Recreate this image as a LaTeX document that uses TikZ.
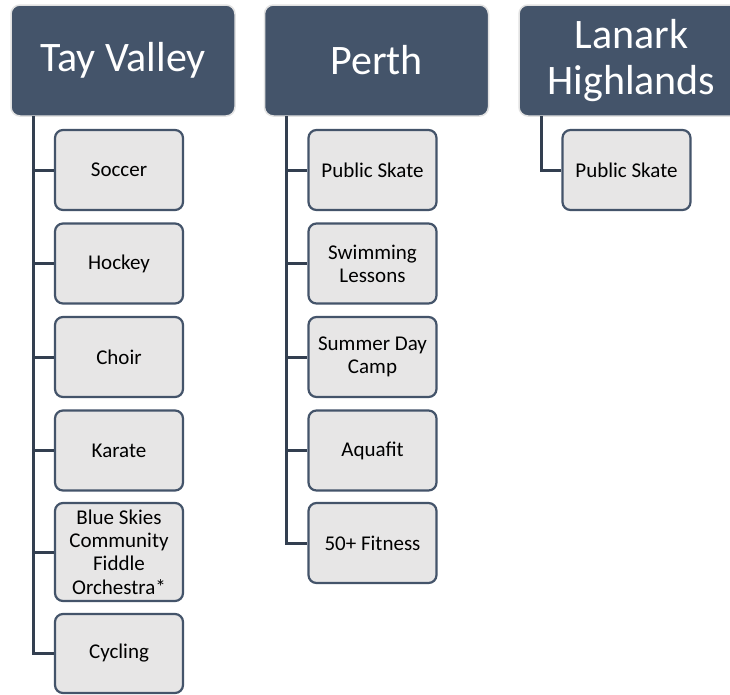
\documentclass[tikz,border=0pt]{standalone}
\usepackage{fontspec}
\setmainfont{Carlito}
\definecolor{hdr}{HTML}{44546A}
\definecolor{hdrline}{HTML}{E2E2E2}
\definecolor{kid}{HTML}{E7E6E6}
\definecolor{conn}{HTML}{333F50}
\tikzset{
  hdrbox/.style={draw=hdrline, line width=1.5pt, fill=hdr, rounded corners=9pt,
    minimum width=224pt, minimum height=111pt, text=white, align=center,
    inner sep=0pt, font=\fontsize{42}{46}\selectfont},
  kidbox/.style={draw=hdr, line width=2.2pt, fill=kid, rounded corners=8pt,
    minimum width=128pt, minimum height=80pt, text=black, align=center,
    inner sep=0pt, font=\fontsize{21}{23.3}\selectfont},
  link/.style={draw=conn, line width=3pt}
}
\begin{document}
\begin{tikzpicture}[x=1pt,y=1pt]
\clip (0,0) rectangle (730,-694);
\fill[white] (0,0) rectangle (730,-694);
% connector roots
\coordinate (tvr) at (33,-116);
\coordinate (per) at (286,-116);
\coordinate (lar) at (541,-116);
% headers
\node[hdrbox] (tv) at (123,-60.5) {Tay Valley};
\node[hdrbox] (pe) at (376.5,-60.5) {Perth};
\node[hdrbox, minimum width=225pt] (la) at (631.5,-60.5) {Lanark\\Highlands};
% Tay Valley children
\node[kidbox] (tv1) at (119,-170) {Soccer};
\node[kidbox] (tv2) at (119,-263.5) {Hockey};
\node[kidbox] (tv3) at (119,-357) {Choir};
\node[kidbox] (tv4) at (119,-450.5) {Karate};
\node[kidbox, minimum height=98pt] (tv5) at (119,-552) {Blue Skies\\Community\\Fiddle\\Orchestra*};
\node[kidbox, minimum height=79pt] (tv6) at (119,-653.5) {Cycling};
% Perth children
\node[kidbox] (pe1) at (372.5,-170) {Public Skate};
\node[kidbox] (pe2) at (372.5,-263.5) {Swimming\\Lessons};
\node[kidbox] (pe3) at (372.5,-357) {Summer Day\\Camp};
\node[kidbox] (pe4) at (372.5,-450.5) {Aquafit};
\node[kidbox] (pe5) at (372.5,-543) {50+ Fitness};
% Lanark child
\node[kidbox] (la1) at (626.5,-170) {Public Skate};
% connectors
\foreach \k in {1,...,6} \draw[link] (tvr) |- (tv\k.west);
\foreach \k in {1,...,5} \draw[link] (per) |- (pe\k.west);
\draw[link] (lar) |- (la1.west);
\end{tikzpicture}
\end{document}
